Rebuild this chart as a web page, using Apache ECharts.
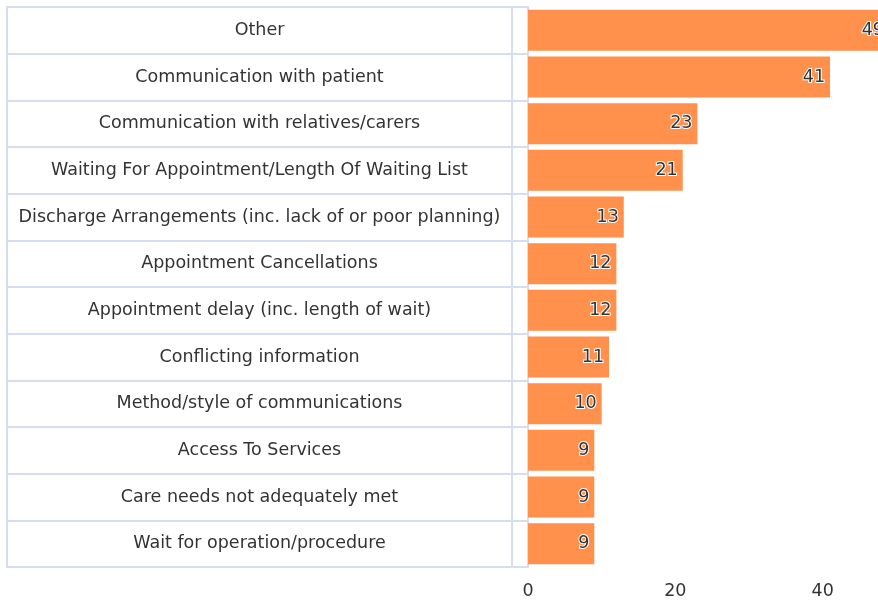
<!DOCTYPE html>
<html>
<head>
<meta charset="utf-8">
<script src="https://cdn.jsdelivr.net/npm/echarts@6/dist/echarts.min.js"></script>
<style>html,body{margin:0;padding:0;background:#fff;overflow:hidden;}#c{width:990px;height:601px;}</style>
</head>
<body>
<div id="c"></div>
<script>
var categories = [
  "Other",
  "Communication with patient",
  "Communication with relatives/carers",
  "Waiting For Appointment/Length Of Waiting List",
  "Discharge Arrangements (inc. lack of or poor planning)",
  "Appointment Cancellations",
  "Appointment delay (inc. length of wait)",
  "Conflicting information",
  "Method/style of communications",
  "Access To Services",
  "Care needs not adequately met",
  "Wait for operation/procedure"
];
var values = [49, 41, 23, 21, 13, 12, 12, 11, 10, 9, 9, 9];
var xTicks = { min: 0, max: 60, interval: 20 };

var lineColor = '#d6ddf0';
var font = 'DejaVu Sans';
var fs = 17.5;
var chart = echarts.init(document.getElementById('c'), null, { renderer: 'canvas' });
var tableAxis = function (idx, showLabel) {
  return {
    type: 'category', gridIndex: idx, data: categories, inverse: true,
    axisLine: { show: false }, axisTick: { show: false },
    splitLine: { show: true, lineStyle: { color: lineColor, width: 2 } },
    axisLabel: showLabel ? {
      show: true, align: 'center', margin: -252.5, color: '#333',
      fontFamily: font, fontSize: fs
    } : { show: false }
  };
};
chart.setOption({
  animation: false,
  grid: [
    { left: 7, top: 7, width: 505, bottom: 34, show: true, borderColor: lineColor, borderWidth: 2, containLabel: false },
    { left: 512, top: 7, width: 16, bottom: 34, show: true, borderColor: lineColor, borderWidth: 2, containLabel: false },
    { left: 528, top: 7, width: 442, bottom: 34, containLabel: false }
  ],
  xAxis: [
    { type: 'value', gridIndex: 0, show: false },
    { type: 'value', gridIndex: 1, show: false },
    { type: 'value', gridIndex: 2, min: xTicks.min, max: xTicks.max, interval: xTicks.interval,
      axisLine: { show: false }, axisTick: { show: false }, splitLine: { show: false },
      axisLabel: { color: '#333', fontFamily: font, fontSize: fs, margin: 15 } }
  ],
  yAxis: [
    tableAxis(0, true),
    tableAxis(1, false),
    { type: 'category', gridIndex: 2, data: categories, inverse: true, show: false }
  ],
  series: [{
    type: 'bar', xAxisIndex: 2, yAxisIndex: 2, data: values,
    barCategoryGap: '12%',
    itemStyle: { color: '#ff914d' },
    label: {
      show: true, position: 'insideRight', distance: 5,
      color: '#333', fontFamily: font, fontSize: fs,
      textBorderColor: '#fff', textBorderWidth: 2
    }
  }]
});
</script>
</body>
</html>
